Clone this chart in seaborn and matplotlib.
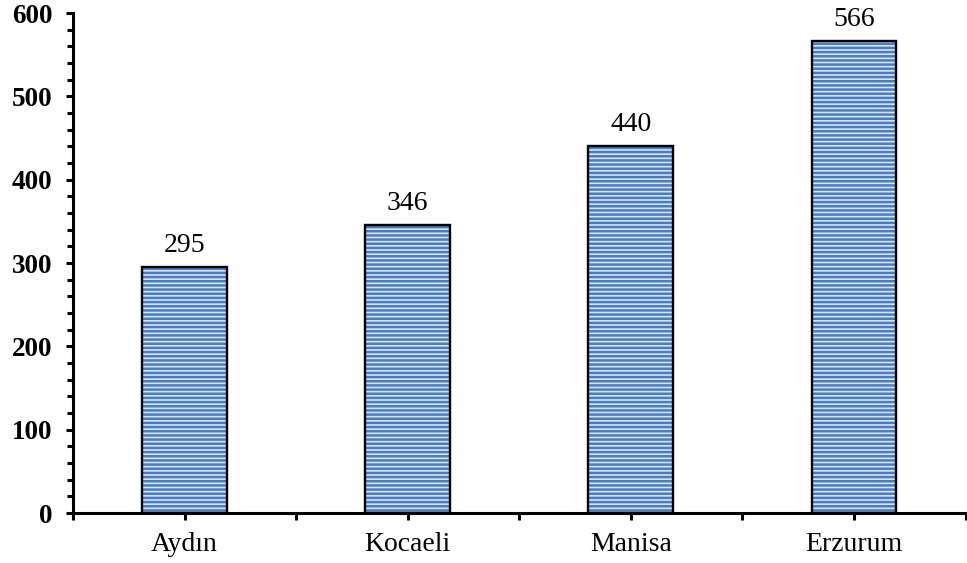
import matplotlib
matplotlib.use("Agg")
import matplotlib.pyplot as plt
from matplotlib.ticker import MultipleLocator, FixedLocator
import seaborn as sns
import pandas as pd

cities = ["Aydın", "Kocaeli", "Manisa", "Erzurum"]
counts = [295, 346, 440, 566]
y_ticks = [0, 100, 200, 300, 400, 500, 600]

df = pd.DataFrame({"city": cities, "count": counts})

sns.set_theme(style="white")
plt.rcParams["font.family"] = ["Liberation Serif", "DejaVu Serif"]
plt.rcParams["hatch.linewidth"] = 1.8
plt.rcParams["text.color"] = "black"
plt.rcParams["xtick.color"] = "black"
plt.rcParams["ytick.color"] = "black"

fig = plt.figure(figsize=(9.67, 5.63), dpi=100)
ax = fig.add_axes([0.0755, 0.0888, 0.923, 0.888])

stripe_blue = "#4a7dbd"
sns.barplot(data=df, x="city", y="count", ax=ax, width=0.38,
            color="#d6e3f4", saturation=1, edgecolor=stripe_blue, linewidth=0)
for p in ax.patches:
    p.set_hatch("----")
    p.set_edgecolor(stripe_blue)
    p.set_linewidth(0)
    # black outline drawn on top of the striped fill
    ax.add_patch(plt.Rectangle(p.get_xy(), p.get_width(), p.get_height(),
                               fill=False, edgecolor="black", linewidth=1.7,
                               zorder=p.get_zorder() + 0.1))

ax.bar_label(ax.containers[0], labels=[str(v) for v in counts],
             padding=6.5, fontsize=20, color="black")

ax.set_xlim(-0.5, len(cities) - 0.5)
ax.set_ylim(0, 600)
ax.set_yticks(y_ticks)
ax.set_yticklabels([str(t) for t in y_ticks], fontweight="bold", fontsize=19.5,
                   color="black")
ax.yaxis.set_minor_locator(MultipleLocator(20))
ax.xaxis.set_minor_locator(FixedLocator([i - 0.5 for i in range(len(cities) + 1)]))
ax.tick_params(axis="x", labelsize=20, pad=9, labelcolor="black")

ax.set_xlabel("")
ax.set_ylabel("")

for side in ["top", "right"]:
    ax.spines[side].set_visible(False)
for side in ["left", "bottom"]:
    ax.spines[side].set_linewidth(2.2)
    ax.spines[side].set_color("black")

ax.tick_params(axis="y", which="major", direction="out", length=5, width=2.2,
               color="black", left=True, pad=10)
ax.tick_params(axis="y", which="minor", direction="out", length=4, width=2.2,
               color="black", left=True)
ax.tick_params(axis="x", which="both", direction="out", length=5, width=2.2,
               color="black", bottom=True)

fig.savefig("out.png", dpi=100, facecolor="white")
